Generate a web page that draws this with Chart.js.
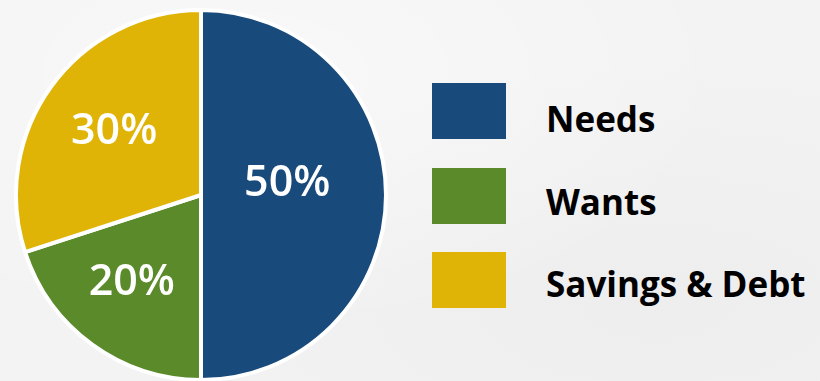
<!DOCTYPE html>
<html><head><meta charset="utf-8">
<script src="https://cdn.jsdelivr.net/npm/chart.js@4/dist/chart.umd.min.js"></script>
<style>
html,body{margin:0;padding:0;}
body{width:820px;height:381px;overflow:hidden;position:relative;
 background:#f3f3f3;
 background-image:radial-gradient(ellipse at 30% 20%, rgba(255,255,255,0.5), rgba(255,255,255,0) 60%),radial-gradient(ellipse at 80% 80%, rgba(232,232,232,0.5), rgba(232,232,232,0) 60%);}
#wrap{position:absolute;left:14px;top:8px;width:374px;height:374px;}
.box{position:absolute;left:432px;width:74px;height:56px;}
.lab{position:absolute;left:546px;font-family:"Open Sans",sans-serif;font-weight:700;font-size:35px;color:#000;white-space:nowrap;line-height:1;}
</style></head>
<body>
<div id="wrap"><canvas id="c"></canvas></div>
<div id="legend"></div>
<script>
const categories = ["Needs", "Wants", "Savings & Debt"];
const values = [50, 20, 30];
const valueLabels = ["50%", "20%", "30%"];
const colors = ["#184a7c", "#5b8a2a", "#dfb406"];
const labelRadius = [0.47, 0.605, 0.58];
const labelAngleFrac = [0.46, 0.53, 0.5];

const legend = document.getElementById('legend');
categories.forEach((name, i) => {
  const b = document.createElement('div');
  b.className = 'box';
  b.style.top = (83 + i * 84.5) + 'px';
  b.style.background = colors[i];
  legend.appendChild(b);
  const t = document.createElement('div');
  t.className = 'lab';
  t.textContent = name;
  t.style.top = (101 + i * 82.5) + 'px';
  legend.appendChild(t);
});

const labelPlugin = {
  id: 'pctLabels',
  afterDatasetsDraw(chart) {
    const ctx = chart.ctx;
    const meta = chart.getDatasetMeta(0);
    ctx.save();
    ctx.fillStyle = '#ffffff';
    ctx.font = '600 43px "Open Sans", sans-serif';
    ctx.textAlign = 'center';
    ctx.textBaseline = 'middle';
    meta.data.forEach((arc, i) => {
      const p = arc.getProps(['x','y','startAngle','endAngle','outerRadius'], true);
      const a = p.startAngle + (p.endAngle - p.startAngle) * labelAngleFrac[i];
      const r = p.outerRadius * labelRadius[i];
      ctx.fillText(valueLabels[i], p.x + Math.cos(a) * r, p.y + Math.sin(a) * r);
    });
    ctx.restore();
  }
};

new Chart(document.getElementById('c'), {
  type: 'pie',
  data: {
    labels: categories,
    datasets: [{
      data: values,
      backgroundColor: colors,
      borderColor: '#ffffff',
      borderWidth: 4
    }]
  },
  options: {
    responsive: true,
    maintainAspectRatio: false,
    animation: false,
    layout: { padding: 0 },
    plugins: { legend: { display: false }, tooltip: { enabled: false } }
  },
  plugins: [labelPlugin]
});
</script>
</body></html>
